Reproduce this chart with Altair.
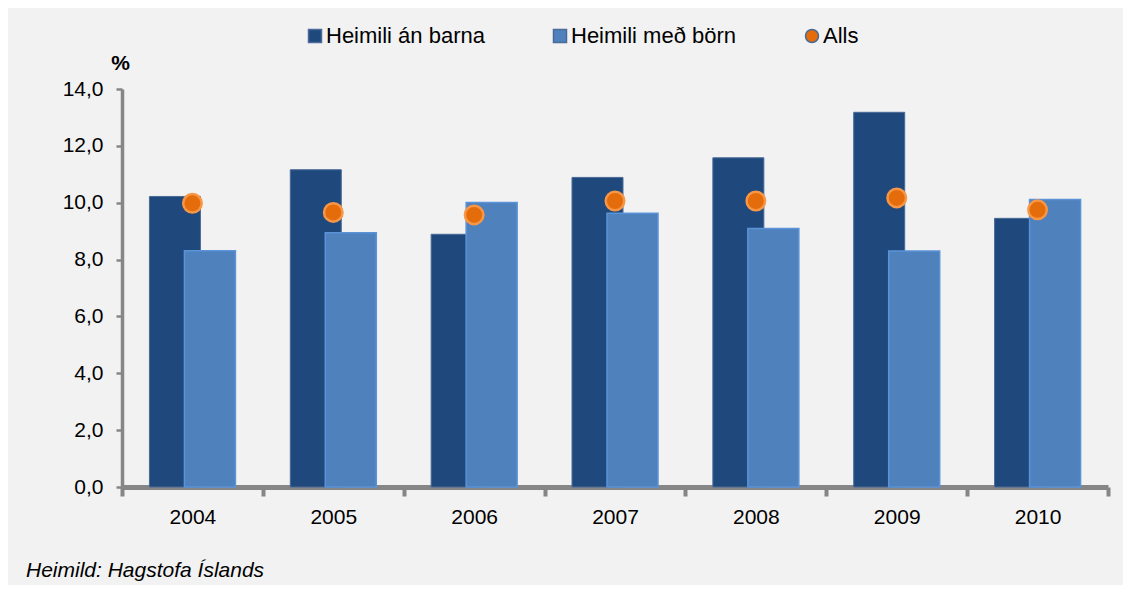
import altair as alt
import pandas as pd

years = ["2004", "2005", "2006", "2007", "2008", "2009", "2010"]
an_barna = [10.22, 11.16, 8.89, 10.89, 11.58, 13.18, 9.45]
med_bornum = [8.31, 8.94, 10.01, 9.63, 9.09, 8.30, 10.11]
alls = [9.98, 9.66, 9.57, 10.06, 10.06, 10.17, 9.75]
series_names = ["Heimili án barna", "Heimili með börn", "Alls"]
series_colors = ["#1F497D", "#4F81BD", "#E46C0A"]
series_shapes = ["square", "square", "circle"]
y_ticks = [0, 2, 4, 6, 8, 10, 12, 14]
y_unit = "%"
source_text = "Heimild: Hagstofa Íslands"

FONT = "Liberation Sans"

df_dark = pd.DataFrame({"year": years, "value": an_barna, "series": series_names[0]})
df_light = pd.DataFrame({"year": years, "value": med_bornum, "series": series_names[1]})
df_alls = pd.DataFrame({"year": years, "value": alls, "series": series_names[2]})

legend = alt.Legend(
    title=None,
    orient="none",
    legendX=182,
    legendY=-64,
    direction="horizontal",
    labelFont=FONT,
    labelFontSize=22,
    labelColor="black",
    labelOffset=0,
    labelLimit=500,
    columnPadding=64,
    symbolSize=169,
)

color = alt.Color(
    "series:N",
    scale=alt.Scale(domain=series_names, range=series_colors),
    legend=legend,
)

x_enc = alt.X(
    "year:N",
    sort=years,
    scale=alt.Scale(paddingInner=0, paddingOuter=0),
    axis=alt.Axis(
        title=None,
        labelAngle=0,
        tickBand="extent",
        domainColor="#868686",
        domainWidth=5,
        tickColor="#868686",
        tickWidth=4,
        tickSize=9,
        labelPadding=10,
        labelFont=FONT,
        labelFontSize=21,
        labelColor="black",
        grid=False,
    ),
)

y_enc = alt.Y(
    "value:Q",
    scale=alt.Scale(domain=[0, 14], nice=False),
    axis=alt.Axis(
        values=y_ticks,
        labelExpr="replace(format(datum.value, '.1f'), '.', ',')",
        title=y_unit,
        titleAngle=0,
        titleX=-2,
        titleY=-20,
        titleAlign="center",
        titleBaseline="alphabetic",
        titleFont=FONT,
        titleFontSize=21,
        titleFontWeight="bold",
        titleColor="black",
        domainColor="#868686",
        domainWidth=3.5,
        tickColor="#868686",
        tickWidth=2.5,
        tickSize=6,
        labelPadding=13,
        labelFont=FONT,
        labelFontSize=21,
        labelColor="black",
        grid=False,
    ),
)

dark = alt.Chart(df_dark).mark_bar(
    size=51, xOffset=-17.5, stroke="#4A6B97", strokeWidth=1
).encode(x=x_enc, y=y_enc, color=color)

light = alt.Chart(df_light).mark_bar(
    size=51, xOffset=17.5, stroke="#5B93D8", strokeWidth=1.5
).encode(x=x_enc, y=y_enc, color=color)

dots = alt.Chart(df_alls).mark_point(
    filled=True, size=342, stroke="#F79646", strokeWidth=2.5, opacity=1
).encode(
    x=x_enc,
    y=y_enc,
    color=color,
    shape=alt.Shape(
        "series:N",
        scale=alt.Scale(domain=series_names, range=series_shapes),
        legend=legend,
    ),
)

chart = (
    alt.layer(dark, light, dots)
    .properties(
        width=986,
        height=398,
        autosize=alt.AutoSizeParams(type="none"),
        padding={"left": 114, "top": 81, "right": 15, "bottom": 98},
        background="#F2F2F2",
        title=alt.TitleParams(
            text=source_text,
            orient="bottom",
            anchor="start",
            frame="group",
            dx=-96,
            offset=33,
            font=FONT,
            fontSize=21,
            fontStyle="italic",
            fontWeight="normal",
            color="black",
        ),
    )
    .configure_view(stroke=None)
)

chart.save("out.html", embed_options={"renderer": "svg", "actions": False})
